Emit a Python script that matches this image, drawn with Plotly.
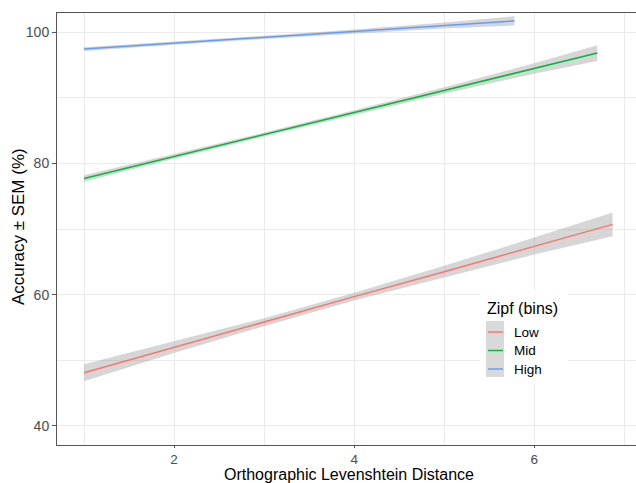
import plotly.graph_objects as go

# Data (fitted lines with SEM ribbons)
low_x = [1.0, 2.0, 3.0, 4.0, 5.0, 6.0, 6.87]
low_y = [48.1, 52.0, 55.8, 59.7, 63.5, 67.4, 70.7]
low_se = [1.3, 0.9, 0.6, 0.6, 0.9, 1.3, 1.8]

mid_x = [1.0, 2.0, 3.0, 4.0, 5.0, 6.0, 6.7]
mid_y = [77.7, 81.05, 84.4, 87.75, 91.1, 94.45, 96.8]
mid_se = [0.5, 0.35, 0.3, 0.35, 0.5, 0.8, 1.2]

high_x = [1.0, 2.0, 3.0, 4.0, 5.0, 5.78]
high_y = [97.4, 98.3, 99.2, 100.1, 101.0, 101.7]
high_se = [0.3, 0.25, 0.25, 0.3, 0.45, 0.7]

series_names = ["Low", "Mid", "High"]
series_colors = ["#F8766D", "#00BA38", "#619CFF"]
series = list(zip(series_names, [low_x, mid_x, high_x], [low_y, mid_y, high_y],
                  [low_se, mid_se, high_se], series_colors))

x_ticks = [2, 4, 6]
y_ticks = [40, 60, 80, 100]

fig = go.Figure()
for name, xs, ys, se, col in series:
    upper = [y + s for y, s in zip(ys, se)]
    lower = [y - s for y, s in zip(ys, se)]
    fig.add_trace(go.Scatter(x=xs + xs[::-1], y=upper + lower[::-1], fill="toself",
                             fillcolor="rgba(153,153,153,0.4)", line=dict(width=0),
                             mode="lines", showlegend=False, hoverinfo="skip"))
for name, xs, ys, se, col in series:
    fig.add_trace(go.Scatter(x=xs, y=ys, mode="lines", name=name, showlegend=False,
                             line=dict(color=col, width=1.5)))

grid = "#EBEBEB"
L, T, W, H = 57, 13, 579, 432


def px(x):
    return (x - L) / W


def py(y):
    return 1 - (y - T) / H


fig.update_layout(
    width=636, height=483,
    margin=dict(l=L, r=636 - L - W, t=T, b=483 - T - H),
    plot_bgcolor="white", paper_bgcolor="white",
    font=dict(family="Liberation Sans, Arial", color="#4D4D4D"),
    showlegend=False,
    xaxis=dict(range=[0.70, 7.13], tickvals=x_ticks, ticktext=[str(v) for v in x_ticks],
               showgrid=True, gridcolor=grid, gridwidth=1,
               minor=dict(tickvals=[1, 3, 5, 7], showgrid=True, gridcolor=grid, gridwidth=0.6),
               showline=True, linecolor="#555555", linewidth=1, mirror=True,
               ticks="outside", ticklen=2, tickcolor="#555555",
               tickfont=dict(size=13.5, color="#4D4D4D"), zeroline=False),
    yaxis=dict(range=[37.1, 102.9], tickvals=y_ticks, ticktext=[str(v) for v in y_ticks],
               showgrid=True, gridcolor=grid, gridwidth=1,
               minor=dict(tickvals=[50, 70, 90], showgrid=True, gridcolor=grid, gridwidth=0.6),
               showline=True, linecolor="#555555", linewidth=1,
               ticks="outside", ticklen=4, tickcolor="#555555",
               tickfont=dict(size=14, color="#4D4D4D"), zeroline=False),
)

# ggplot-style legend drawn inside the panel
fig.add_shape(type="rect", xref="paper", yref="paper",
              x0=px(480), x1=px(568), y0=py(384), y1=py(290),
              fillcolor="white", line=dict(width=0), layer="above")
fig.add_shape(type="rect", xref="paper", yref="paper",
              x0=px(486), x1=px(504), y0=py(377), y1=py(321),
              fillcolor="#D9D9D9", line=dict(width=0), layer="above")
fig.add_annotation(text="Zipf (bins)", xref="paper", yref="paper",
                   x=px(485), y=py(308), xanchor="left", yanchor="middle",
                   showarrow=False, font=dict(size=16, color="black"))
item_y = [332, 350.5, 369]
for (name, col), yy in zip(zip(series_names, series_colors), item_y):
    fig.add_shape(type="line", xref="paper", yref="paper",
                  x0=px(488), x1=px(503), y0=py(yy), y1=py(yy),
                  line=dict(color=col, width=1.5), layer="above")
    fig.add_annotation(text=name, xref="paper", yref="paper",
                       x=px(512), y=py(yy), xanchor="left", yanchor="middle",
                       showarrow=False, font=dict(size=13.5, color="black"))

fig.add_annotation(text="Orthographic Levenshtein Distance", xref="paper", yref="paper",
                   x=px(349), y=py(485), xanchor="center", yanchor="bottom",
                   showarrow=False, font=dict(size=16, color="black"))
fig.add_annotation(text="Accuracy ± SEM (%)", xref="paper", yref="paper",
                   x=px(18), y=py(227), xanchor="center", yanchor="middle",
                   textangle=-90, showarrow=False, font=dict(size=17, color="black"))

fig.write_html("out.html")
